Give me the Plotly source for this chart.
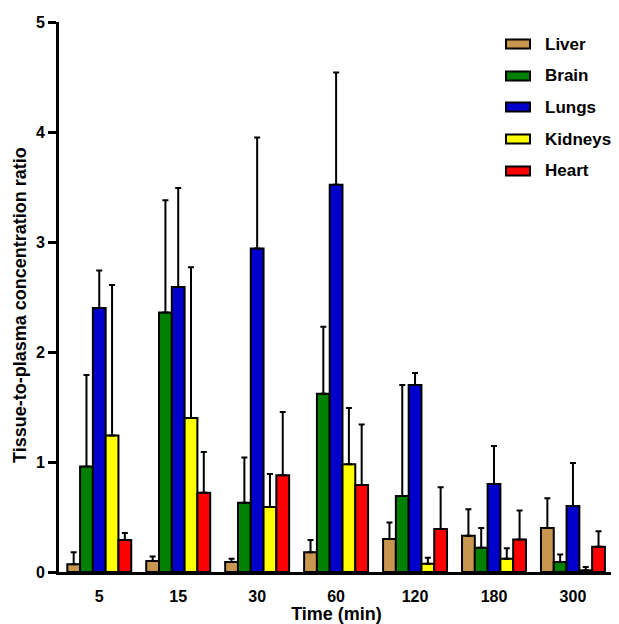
import plotly.graph_objects as go

times = ["5", "15", "30", "60", "120", "180", "300"]
organs = ["Liver", "Brain", "Lungs", "Kidneys", "Heart"]
colors = ["#C8964F", "#008000", "#0000CC", "#FFFF00", "#FF0000"]

liver = [0.07, 0.10, 0.09, 0.18, 0.30, 0.33, 0.40]
liver_err = [0.11, 0.04, 0.03, 0.11, 0.15, 0.24, 0.27]
brain = [0.96, 2.36, 0.63, 1.62, 0.69, 0.22, 0.09]
brain_err = [0.83, 1.02, 0.41, 0.61, 1.01, 0.18, 0.07]
lungs = [2.40, 2.59, 2.94, 3.52, 1.70, 0.80, 0.60]
lungs_err = [0.34, 0.90, 1.01, 1.02, 0.11, 0.345, 0.39]
kidneys = [1.24, 1.40, 0.59, 0.98, 0.076, 0.12, 0.015]
kidneys_err = [1.37, 1.37, 0.30, 0.51, 0.054, 0.095, 0.03]
heart = [0.29, 0.72, 0.88, 0.79, 0.39, 0.295, 0.23]
heart_err = [0.065, 0.37, 0.575, 0.55, 0.38, 0.265, 0.14]

values = [liver, brain, lungs, kidneys, heart]
errors = [liver_err, brain_err, lungs_err, kidneys_err, heart_err]

# the page body has an 8px default margin; size the figure to fit the window
OFF = 8
W, H = 619 - OFF, 624 - OFF
L, R, T, B = 59 - OFF, 5, 22 - OFF, 52
FONT = "Arial, Liberation Sans, Helvetica, sans-serif"

fig = go.Figure()
for name, vals, errs, col in zip(organs, values, errors, colors):
    fig.add_trace(go.Bar(
        x=times, y=vals, name=name,
        marker=dict(color=col, line=dict(color="black", width=2)),
        error_y=dict(type="data", array=errs, arrayminus=[0] * len(errs),
                     symmetric=False, color="black", thickness=2, width=3),
        showlegend=False,
    ))

pw, ph = W - L - R, H - T - B
def px_x(px):  # page pixel -> paper x
    return (px - OFF - L) / pw
def px_y(py):  # page pixel -> paper y
    return (H - B - (py - OFF)) / ph

legend_y = [44, 76, 107, 139, 171]
shapes = []
annotations = []
for name, col, yy in zip(organs, colors, legend_y):
    shapes.append(dict(type="rect", xref="paper", yref="paper",
                       x0=px_x(506), x1=px_x(530), y0=px_y(yy + 4.5), y1=px_y(yy - 4.5),
                       fillcolor=col, line=dict(color="black", width=2)))
    annotations.append(dict(x=px_x(543), y=px_y(yy), xref="paper", yref="paper",
                            text=f"<b>{name}</b>", showarrow=False,
                            xanchor="left", yanchor="middle",
                            font=dict(family=FONT, size=17, color="black")))

annotations.append(dict(x=px_x(20), y=px_y(305), xref="paper", yref="paper",
                        text="<b>Tissue-to-plasma concentration ratio</b>",
                        textangle=-90, showarrow=False,
                        xanchor="center", yanchor="middle",
                        font=dict(family=FONT, size=18, color="black")))

fig.update_layout(
    width=W, height=H,
    margin=dict(l=L, r=R, t=T, b=B),
    paper_bgcolor="white", plot_bgcolor="white",
    barmode="group", bargap=0.19, bargroupgap=0,
    font=dict(family=FONT, color="black"),
    shapes=shapes, annotations=annotations,
)
fig.update_xaxes(
    type="category", range=[-0.51, 6.52],
    showline=True, linecolor="black", linewidth=3,
    ticks="", showgrid=False, zeroline=False,
    tickfont=dict(family=FONT, size=16, color="black"),
    ticklabelstandoff=8,
    tickvals=times, ticktext=[f"<b>{t}</b>" for t in times],
    title=dict(text="<b>Time (min)</b>", font=dict(family=FONT, size=18, color="black"), standoff=2),
)
fig.update_yaxes(
    range=[0, 5], tickvals=[0, 1, 2, 3, 4, 5],
    ticktext=[f"<b>{v}</b>" for v in [0, 1, 2, 3, 4, 5]],
    showline=True, linecolor="black", linewidth=3,
    ticks="outside", ticklen=8, tickwidth=3, tickcolor="black",
    showgrid=False, zeroline=False,
    tickfont=dict(family=FONT, size=16, color="black"),
)

fig.write_html("out.html")
